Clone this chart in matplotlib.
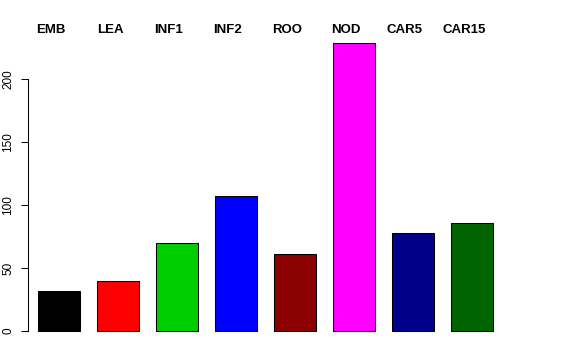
import numpy as np
import matplotlib
matplotlib.use('Agg')
import matplotlib.pyplot as plt

# Data
labels = ['EMB', 'LEA', 'INF1', 'INF2', 'ROO', 'NOD', 'CAR5', 'CAR15']
values = [32, 40, 70, 107.5, 61.5, 228.5, 78, 85.5]
colors = ['#000000', '#FF0000', '#00CD00', '#0000FF',
          '#8B0000', '#FF00FF', '#00008B', '#006400']
yticks = [0, 50, 100, 150, 200]

plt.rcParams['font.family'] = ['Liberation Sans', 'DejaVu Sans']

fig = plt.figure(figsize=(5.76, 3.6), dpi=100)
ax = fig.add_axes([28 / 576, (360 - 342.5) / 360, (512 - 28) / 576, 311 / 360])

x = np.arange(len(labels))
ax.bar(x, values, width=0.712, color=colors, edgecolor='black', linewidth=0.75)

ax.set_xlim(-0.525, 7.68)
ax.set_ylim(-9.1, 237.7)

# group names along the top
for xi, lab in zip(x, labels):
    ax.text(xi - 0.135, 1.006, lab, transform=ax.get_xaxis_transform(),
            ha='center', va='center', fontsize=9.5, fontweight='bold')

ax.set_xticks([])
ax.set_yticks(yticks)
ax.set_yticklabels([str(t) for t in yticks], rotation=90, va='center', fontsize=8.5)
ax.tick_params(axis='y', length=5, width=0.75, pad=5)

for s in ['top', 'right', 'bottom']:
    ax.spines[s].set_visible(False)
ax.spines['left'].set_bounds(0, 200)
ax.spines['left'].set_linewidth(0.75)

fig.savefig('out.png', dpi=100)
